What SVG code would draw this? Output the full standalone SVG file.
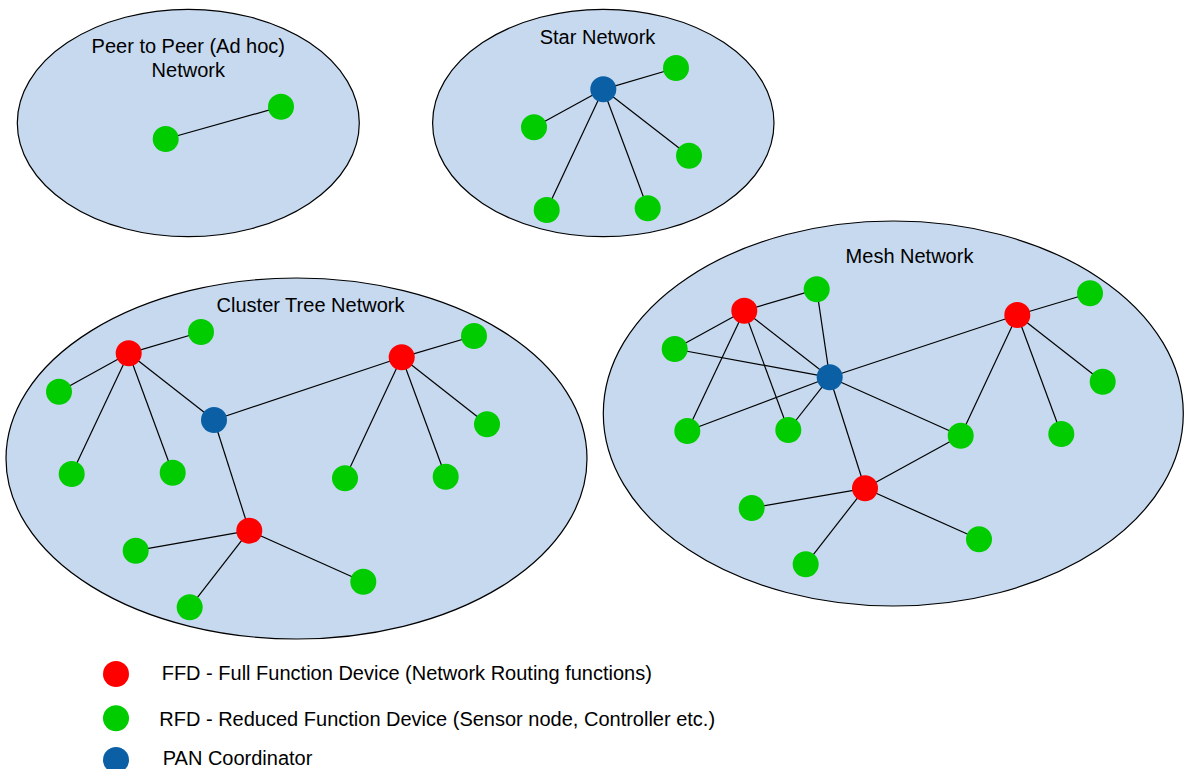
<svg xmlns="http://www.w3.org/2000/svg" width="1184" height="769" viewBox="0 0 1184 769">
  <style>
    .area { fill: #c6d9ef; stroke: #000; stroke-width: 1.2; }
    .link { stroke: #000; stroke-width: 1.2; fill: none; }
    .ffd { fill: #ff0000; }
    .rfd { fill: #00cc00; }
    .pan { fill: #0b5fa5; }
    .label { font-family: "Liberation Sans", Arial, sans-serif; font-size: 20px; fill: #000; }
  </style>
  <defs>
    <circle id="dot" r="13"/>
  </defs>
  <rect width="1184" height="769" fill="#fff"/>

  <!-- network areas -->
  <g id="areas">
    <ellipse id="peer-area" class="area" cx="188.3" cy="123" rx="171" ry="113.7"/>
    <ellipse id="star-area" class="area" cx="603.3" cy="123" rx="170.7" ry="113.7"/>
    <ellipse id="cluster-area" class="area" cx="296.5" cy="458.5" rx="290.5" ry="180.5"/>
    <ellipse id="mesh-area" class="area" cx="893.3" cy="413.5" rx="290" ry="192.5"/>
  </g>

  <!-- area titles -->
  <g id="titles">
    <text class="label" x="188.3" y="53.3" text-anchor="middle">Peer to Peer (Ad hoc)</text>
    <text class="label" x="188.3" y="77.3" text-anchor="middle">Network</text>
    <text class="label" x="597.5" y="44.3" text-anchor="middle">Star Network</text>
    <text class="label" x="310.5" y="311.7" text-anchor="middle">Cluster Tree Network</text>
    <text class="label" x="909.5" y="262.7" text-anchor="middle">Mesh Network</text>
  </g>

  <!-- connectors -->
  <g id="connectors" class="link">
    <!-- peer to peer -->
    <line x1="165.7" y1="139" x2="281" y2="106.7"/>
    <!-- star -->
    <line x1="603.3" y1="89.3" x2="676" y2="68"/>
    <line x1="603.3" y1="89.3" x2="534" y2="127.3"/>
    <line x1="603.3" y1="89.3" x2="689" y2="155.7"/>
    <line x1="603.3" y1="89.3" x2="546.7" y2="210"/>
    <line x1="603.3" y1="89.3" x2="647.7" y2="208.3"/>
    <!-- cluster tree -->
    <line x1="128.7" y1="353.3" x2="201" y2="332"/>
    <line x1="128.7" y1="353.3" x2="59" y2="391.7"/>
    <line x1="128.7" y1="353.3" x2="71.7" y2="474"/>
    <line x1="128.7" y1="353.3" x2="172.7" y2="472.7"/>
    <line x1="128.7" y1="353.3" x2="214" y2="420"/>
    <line x1="214" y1="420" x2="401.7" y2="357.3"/>
    <line x1="214" y1="420" x2="249.3" y2="530.7"/>
    <line x1="401.7" y1="357.3" x2="474" y2="336"/>
    <line x1="401.7" y1="357.3" x2="487" y2="424.3"/>
    <line x1="401.7" y1="357.3" x2="345" y2="478.3"/>
    <line x1="401.7" y1="357.3" x2="445.7" y2="476.7"/>
    <line x1="249.3" y1="530.7" x2="135.7" y2="550.7"/>
    <line x1="249.3" y1="530.7" x2="189.7" y2="607.3"/>
    <line x1="249.3" y1="530.7" x2="363.3" y2="581.7"/>
    <!-- mesh -->
    <line x1="744.3" y1="310.7" x2="816.7" y2="289.3"/>
    <line x1="744.3" y1="310.7" x2="674.7" y2="349"/>
    <line x1="744.3" y1="310.7" x2="829.7" y2="377.3"/>
    <line x1="744.3" y1="310.7" x2="687.3" y2="431"/>
    <line x1="744.3" y1="310.7" x2="788.3" y2="430"/>
    <line x1="816.7" y1="289.3" x2="829.7" y2="377.3"/>
    <line x1="674.7" y1="349" x2="829.7" y2="377.3"/>
    <line x1="687.3" y1="431" x2="829.7" y2="377.3"/>
    <line x1="788.3" y1="430" x2="829.7" y2="377.3"/>
    <line x1="829.7" y1="377.3" x2="1017.3" y2="315"/>
    <line x1="829.7" y1="377.3" x2="960.7" y2="435.7"/>
    <line x1="829.7" y1="377.3" x2="865" y2="488.3"/>
    <line x1="1017.3" y1="315" x2="1090" y2="293.3"/>
    <line x1="1017.3" y1="315" x2="1102.7" y2="381.7"/>
    <line x1="1017.3" y1="315" x2="1061.3" y2="434"/>
    <line x1="1017.3" y1="315" x2="960.7" y2="435.7"/>
    <line x1="960.7" y1="435.7" x2="865" y2="488.3"/>
    <line x1="865" y1="488.3" x2="751.7" y2="508"/>
    <line x1="865" y1="488.3" x2="805.7" y2="564.3"/>
    <line x1="865" y1="488.3" x2="979" y2="539.3"/>
  </g>

  <!-- peer to peer nodes -->
  <g id="peer-n1" class="rfd"><use href="#dot" x="165.7" y="139"/></g>
  <g id="peer-n2" class="rfd"><use href="#dot" x="281" y="106.7"/></g>

  <!-- star nodes -->
  <g id="star-pan" class="pan"><use href="#dot" x="603.3" y="89.3"/></g>
  <g id="star-n1" class="rfd"><use href="#dot" x="676" y="68"/></g>
  <g id="star-n2" class="rfd"><use href="#dot" x="534" y="127.3"/></g>
  <g id="star-n3" class="rfd"><use href="#dot" x="689" y="155.7"/></g>
  <g id="star-n4" class="rfd"><use href="#dot" x="546.7" y="210"/></g>
  <g id="star-n5" class="rfd"><use href="#dot" x="647.7" y="208.3"/></g>

  <!-- cluster tree nodes -->
  <g id="tree-ffd1" class="ffd"><use href="#dot" x="128.7" y="353.3"/></g>
  <g id="tree-ffd2" class="ffd"><use href="#dot" x="401.7" y="357.3"/></g>
  <g id="tree-ffd3" class="ffd"><use href="#dot" x="249.3" y="530.7"/></g>
  <g id="tree-pan" class="pan"><use href="#dot" x="214" y="420"/></g>
  <g id="tree-n1" class="rfd"><use href="#dot" x="201" y="332"/></g>
  <g id="tree-n2" class="rfd"><use href="#dot" x="59" y="391.7"/></g>
  <g id="tree-n3" class="rfd"><use href="#dot" x="71.7" y="474"/></g>
  <g id="tree-n4" class="rfd"><use href="#dot" x="172.7" y="472.7"/></g>
  <g id="tree-n5" class="rfd"><use href="#dot" x="474" y="336"/></g>
  <g id="tree-n6" class="rfd"><use href="#dot" x="487" y="424.3"/></g>
  <g id="tree-n7" class="rfd"><use href="#dot" x="345" y="478.3"/></g>
  <g id="tree-n8" class="rfd"><use href="#dot" x="445.7" y="476.7"/></g>
  <g id="tree-n9" class="rfd"><use href="#dot" x="135.7" y="550.7"/></g>
  <g id="tree-n10" class="rfd"><use href="#dot" x="189.7" y="607.3"/></g>
  <g id="tree-n11" class="rfd"><use href="#dot" x="363.3" y="581.7"/></g>

  <!-- mesh nodes -->
  <g id="mesh-ffd1" class="ffd"><use href="#dot" x="744.3" y="310.7"/></g>
  <g id="mesh-ffd2" class="ffd"><use href="#dot" x="1017.3" y="315"/></g>
  <g id="mesh-ffd3" class="ffd"><use href="#dot" x="865" y="488.3"/></g>
  <g id="mesh-pan" class="pan"><use href="#dot" x="829.7" y="377.3"/></g>
  <g id="mesh-n1" class="rfd"><use href="#dot" x="816.7" y="289.3"/></g>
  <g id="mesh-n2" class="rfd"><use href="#dot" x="674.7" y="349"/></g>
  <g id="mesh-n3" class="rfd"><use href="#dot" x="687.3" y="431"/></g>
  <g id="mesh-n4" class="rfd"><use href="#dot" x="788.3" y="430"/></g>
  <g id="mesh-n5" class="rfd"><use href="#dot" x="1090" y="293.3"/></g>
  <g id="mesh-n6" class="rfd"><use href="#dot" x="1102.7" y="381.7"/></g>
  <g id="mesh-n7" class="rfd"><use href="#dot" x="1061.3" y="434"/></g>
  <g id="mesh-n8" class="rfd"><use href="#dot" x="960.7" y="435.7"/></g>
  <g id="mesh-n9" class="rfd"><use href="#dot" x="751.7" y="508"/></g>
  <g id="mesh-n10" class="rfd"><use href="#dot" x="805.7" y="564.3"/></g>
  <g id="mesh-n11" class="rfd"><use href="#dot" x="979" y="539.3"/></g>

  <!-- legend -->
  <g id="legend-ffd">
    <use href="#dot" class="ffd" x="116" y="674"/>
    <text class="label" x="161.7" y="680">FFD - Full Function Device (Network Routing functions)</text>
  </g>
  <g id="legend-rfd">
    <use href="#dot" class="rfd" x="116" y="718.3"/>
    <text class="label" x="159.3" y="725.7">RFD - Reduced Function Device (Sensor node, Controller etc.)</text>
  </g>
  <g id="legend-pan">
    <use href="#dot" class="pan" x="116" y="760"/>
    <text class="label" x="162.7" y="765">PAN Coordinator</text>
  </g>
</svg>
